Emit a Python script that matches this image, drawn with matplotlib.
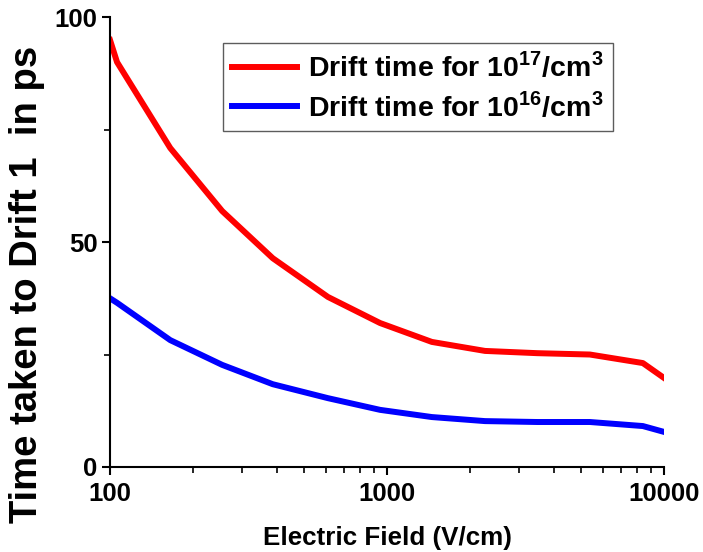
import numpy as np
import matplotlib.pyplot as plt
from matplotlib.ticker import FixedLocator, MultipleLocator, NullFormatter

plt.rcParams['font.family'] = ['Liberation Sans', 'DejaVu Sans']
plt.rcParams['font.weight'] = 'bold'
plt.rcParams['mathtext.fontset'] = 'custom'
plt.rcParams['mathtext.bf'] = 'Liberation Sans:bold'
plt.rcParams['mathtext.rm'] = 'Liberation Sans:bold'

# ===================== data =====================
field = [100, 106, 165, 254, 387, 612, 944, 1452, 2259, 3485, 5400, 8390, 10000]
drift_1e17 = [94.9, 90.0, 70.9, 56.9, 46.4, 37.8, 32.0, 27.8, 25.8, 25.3, 25.0, 23.1, 19.8]
drift_1e16 = [37.5, 36.5, 28.2, 22.7, 18.4, 15.3, 12.7, 11.1, 10.2, 10.0, 10.0, 9.1, 7.8]

fig = plt.figure(figsize=(7.03, 5.52), dpi=100)
ax = fig.add_axes([0.1565, 0.154, 0.788, 0.815])

ax.plot(field, drift_1e17, color='#ff0000', lw=4.3, label=r'Drift time for 10$^{\mathbf{17}}$/cm$^{\mathbf{3}}$')
ax.plot(field, drift_1e16, color='#0000ff', lw=4.3, label=r'Drift time for 10$^{\mathbf{16}}$/cm$^{\mathbf{3}}$')

ax.set_xscale('log')
ax.set_xlim(100, 10000)
ax.set_ylim(0, 100)
ax.set_xticks([100, 1000, 10000])
ax.set_xticklabels(['100', '1000', '10000'])
ax.xaxis.set_minor_locator(FixedLocator([d * m for d in (100, 1000) for m in range(2, 10)]))
ax.xaxis.set_minor_formatter(NullFormatter())
ax.yaxis.set_major_locator(MultipleLocator(50))
ax.yaxis.set_minor_locator(MultipleLocator(25))

for s in ('top', 'right'):
    ax.spines[s].set_visible(False)
for s in ('left', 'bottom'):
    ax.spines[s].set_linewidth(1.5)
ax.tick_params(which='major', direction='out', length=6, width=1.5, labelsize=18.5)
ax.tick_params(axis='x', which='major', pad=5)
ax.tick_params(axis='y', which='major', pad=3)
ax.tick_params(which='minor', direction='out', length=4, width=1.2)

ax.set_xlabel('Electric Field (V/cm)', fontsize=18.75, fontweight='bold')
ax.xaxis.set_label_coords(0.5, -0.157)
ax.xaxis.label.set_va('center')
ax.set_ylabel('Time taken to Drift 1  in ps', fontsize=27.5, fontweight='bold')
ax.yaxis.set_label_coords(-0.150, 0.407)
ax.yaxis.label.set_va('center')

leg = ax.legend(loc='upper left', bbox_to_anchor=(0.204, 0.942), borderaxespad=0,
                fontsize=20.5, frameon=True, fancybox=False, handlelength=2.3,
                borderpad=0.3, labelspacing=0.3, handletextpad=0.4)
leg.get_frame().set_edgecolor('#333333')
leg.get_frame().set_linewidth(1.0)
for t in leg.get_texts():
    t.set_fontweight('bold')

fig.savefig('out.png', dpi=100)
